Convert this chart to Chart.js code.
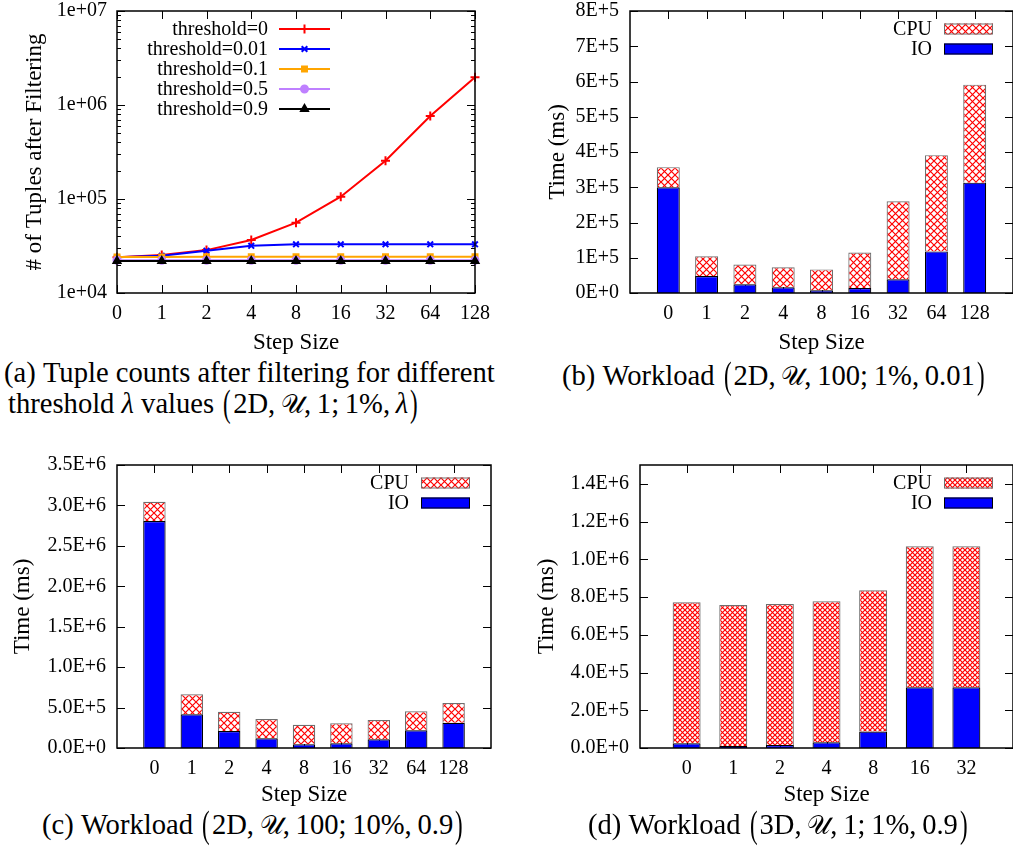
<!DOCTYPE html>
<html>
<head>
<meta charset="utf-8">
<script src="https://cdn.jsdelivr.net/npm/chart.js@4.4.1/dist/chart.umd.min.js"></script>
<style>
  html, body { margin: 0; padding: 0; background: #fff; }
  body { width: 1013px; height: 848px; position: relative; overflow: hidden;
         font-family: "Liberation Serif", "Times New Roman", serif; color: #000; }
  .panel { position: absolute; }
  .cap { position: absolute; font-size: 28.6px; line-height: 32px; white-space: nowrap; }
  .tag { margin-right: 0.25em; }
  .p { display: inline-block; transform: scale(0.8, 1.3); margin: 0 0.04em; }
  .cal { font-size: 0.9em; }
</style>
</head>
<body>
<div class="panel" style="left:0;top:0;width:500px;height:357px"><canvas id="tuples"></canvas></div>
<div class="panel" style="left:500px;top:0;width:513px;height:357px"><canvas id="wlB"></canvas></div>
<div class="panel" style="left:0;top:450px;width:500px;height:359px"><canvas id="wlC"></canvas></div>
<div class="panel" style="left:500px;top:450px;width:513px;height:359px"><canvas id="wlD"></canvas></div>

<div class="cap" style="left:4px;top:357px"><span class="tag">(a)</span>Tuple counts after filtering for different</div>
<div class="cap" style="left:8px;top:388px">threshold <i>λ</i> values <span class="p">(</span>2D,&thinsp;<span class="cal">𝒰</span>,&thinsp;1;&thinsp;1%,&thinsp;<i>λ</i><span class="p">)</span></div>
<div class="cap" style="left:562px;top:360px"><span class="tag">(b)</span>Workload <span class="p">(</span>2D,&thinsp;<span class="cal">𝒰</span>,&thinsp;100;&thinsp;1%,&thinsp;0.01<span class="p">)</span></div>
<div class="cap" style="left:42px;top:809px"><span class="tag">(c)</span>Workload <span class="p">(</span>2D,&thinsp;<span class="cal">𝒰</span>,&thinsp;100;&thinsp;10%,&thinsp;0.9<span class="p">)</span></div>
<div class="cap" style="left:588px;top:809px"><span class="tag">(d)</span>Workload <span class="p">(</span>3D,&thinsp;<span class="cal">𝒰</span>,&thinsp;1;&thinsp;1%,&thinsp;0.9<span class="p">)</span></div>

<script>
// (a) tuples left after filtering, per step size and threshold
const stepsA = ['0', '1', '2', '4', '8', '16', '32', '64', '128'];
const namesA = ['threshold=0', 'threshold=0.01', 'threshold=0.1', 'threshold=0.5', 'threshold=0.9'];
const thr0   = [24000, 25400, 28600, 36600, 56000, 105700, 255000, 764000, 1970000];
const thr001 = [24000, 24900, 28200, 31800, 33000, 33000, 33000, 33000, 33000];
const thr01  = [24200, 24200, 24300, 24300, 24300, 24300, 24300, 24300, 24300];
const thr05  = [22300, 22300, 22300, 22300, 22300, 22300, 22300, 22300, 22300];
const thr09  = [21900, 21900, 21900, 21900, 21900, 21900, 21900, 21900, 21900];
const yTicksA  = [1e4, 1e5, 1e6, 1e7];
const yLabelsA = ['1e+04', '1e+05', '1e+06', '1e+07'];

// (b) workload 2D, 100; 1%, 0.01
const stepsB = ['0', '1', '2', '4', '8', '16', '32', '64', '128'];
const ioB  = [300000, 48000, 25000, 16000, 8000, 14000, 39000, 118000, 313000];
const cpuB = [57000, 56000, 56000, 57000, 59000, 101000, 221000, 273000, 278000];
const yTicksB  = [0, 1e5, 2e5, 3e5, 4e5, 5e5, 6e5, 7e5, 8e5];
const yLabelsB = ['0E+0', '1E+5', '2E+5', '3E+5', '4E+5', '5E+5', '6E+5', '7E+5', '8E+5'];

// (c) workload 2D, 100; 10%, 0.9
const stepsC = ['0', '1', '2', '4', '8', '16', '32', '64', '128'];
const ioC  = [2807000, 417000, 210000, 120000, 45000, 58000, 107000, 218000, 313000];
const cpuC = [239000, 247000, 239000, 239000, 243000, 247000, 239000, 236000, 243000];
const yTicksC  = [0, 5e5, 1e6, 1.5e6, 2e6, 2.5e6, 3e6, 3.5e6];
const yLabelsC = ['0.0E+0', '5.0E+5', '1.0E+6', '1.5E+6', '2.0E+6', '2.5E+6', '3.0E+6', '3.5E+6'];

// (d) workload 3D, 1; 1%, 0.9
const stepsD = ['0', '1', '2', '4', '8', '16', '32'];
const ioD  = [25000, 11000, 16000, 30000, 87000, 322000, 322000];
const cpuD = [747000, 747000, 747000, 748000, 749000, 747000, 747000];
const yTicksD  = [0, 2e5, 4e5, 6e5, 8e5, 1e6, 1.2e6, 1.4e6];
const yLabelsD = ['0.0E+0', '2.0E+5', '4.0E+5', '6.0E+5', '8.0E+5', '1.0E+6', '1.2E+6', '1.4E+6'];

const FONT = '"Liberation Serif", "Times New Roman", serif';
const tickFont = { family: FONT, size: 20, lineHeight: 1 };
const titleFont = { family: FONT, size: 23 };

// red cross-hatch fill used for the CPU part of the bars
function hatch(size) {
  const c = document.createElement('canvas');
  c.width = c.height = size;
  const g = c.getContext('2d');
  g.fillStyle = '#fff';
  g.fillRect(0, 0, size, size);
  g.strokeStyle = '#ff0000';
  g.lineWidth = 1.2;
  g.beginPath();
  g.moveTo(0, 0); g.lineTo(size, size);
  g.moveTo(size, 0); g.lineTo(0, size);
  g.stroke();
  return g.createPattern(c, 'repeat');
}

// keep the plot box where the layout padding puts it
function noLabelPadding(s) {
  s.paddingTop = 0; s.paddingBottom = 0;
  s.paddingLeft = 0; s.paddingRight = 0;
}

// gnuplot style box: inward ticks on all four sides, border on top of the data
const frame = {
  id: 'frame',
  beforeDatasetsDraw(chart, args, o) {
    const { ctx, chartArea: a } = chart;
    const xs = chart.scales.x, ys = chart.scales.y;
    ctx.save();
    ctx.strokeStyle = '#000';
    ctx.lineWidth = 1;
    ctx.beginPath();
    ys.ticks.forEach(t => {
      const py = Math.round(ys.getPixelForValue(t.value)) + 0.5;
      const len = t.major ? 8 : 4;
      ctx.moveTo(a.left, py); ctx.lineTo(a.left + len, py);
      ctx.moveTo(a.right, py); ctx.lineTo(a.right - len, py);
    });
    for (let i = o.first; i <= o.last; i++) {
      const px = Math.round(xs.getPixelForValue(i)) + 0.5;
      ctx.moveTo(px, a.top); ctx.lineTo(px, a.top + 8);
      ctx.moveTo(px, a.bottom); ctx.lineTo(px, a.bottom - 8);
    }
    ctx.stroke();
    ctx.restore();
  },
  afterDatasetsDraw(chart) {
    const { ctx, chartArea: a } = chart;
    ctx.save();
    ctx.strokeStyle = '#000';
    ctx.lineWidth = 1.5;
    ctx.strokeRect(a.left, a.top, a.right - a.left, a.bottom - a.top);
    ctx.restore();
  }
};

// key inside the plot: label right-aligned, sample to its right
const key = {
  id: 'key',
  afterDraw(chart, args, o) {
    const { ctx, chartArea: a } = chart;
    const ds = chart.data.datasets;
    const idx = ds.map((_, i) => i);
    if (o.reverse) idx.reverse();
    const x1 = o.fromRight ? a.right - o.offset - o.width : a.left + o.offset;
    const x2 = x1 + o.width;
    ctx.save();
    ctx.font = '20px ' + FONT;
    ctx.textAlign = 'right';
    ctx.textBaseline = 'middle';
    idx.forEach((di, row) => {
      const d = ds[di];
      const cy = a.top + o.top + row * o.rowGap;
      ctx.fillStyle = '#000';
      ctx.fillText(d.label, x1 - o.gap, cy + 1);
      if (o.kind === 'line') {
        ctx.strokeStyle = d.borderColor;
        ctx.lineWidth = d.borderWidth;
        ctx.beginPath();
        ctx.moveTo(x1, cy); ctx.lineTo(x2, cy);
        ctx.stroke();
        ctx.fillStyle = d.pointBackgroundColor;
        ctx.strokeStyle = d.borderColor;
        ctx.lineWidth = d.pointBorderWidth;
        Chart.helpers.drawPoint(ctx, {
          pointStyle: d.pointStyle, radius: d.pointRadius,
          rotation: 0, borderWidth: d.pointBorderWidth
        }, (x1 + x2) / 2, cy);
      } else {
        const h = o.boxHeight;
        ctx.fillStyle = d.backgroundColor;
        ctx.fillRect(x1, cy - h / 2, o.width, h);
        ctx.strokeStyle = d.borderColor;
        ctx.lineWidth = 1;
        ctx.strokeRect(x1 + 0.5, cy - h / 2 + 0.5, o.width - 1, h - 1);
      }
    });
    ctx.restore();
  }
};

function lineSet(label, data, color, style, radius) {
  return {
    label, data,
    borderColor: color, backgroundColor: color,
    pointBackgroundColor: color, pointBorderColor: color,
    borderWidth: 2, pointBorderWidth: 2,
    pointStyle: style, pointRadius: radius, tension: 0
  };
}

// log axis ticks: 1..9 times every power of ten, majors carry labels
function logTicks(majors) {
  const out = [];
  for (let i = 0; i < majors.length - 1; i++) {
    for (let k = 1; k <= 9; k++) out.push({ value: k * majors[i], major: k === 1 });
  }
  out.push({ value: majors[majors.length - 1], major: true });
  return out;
}

new Chart(document.getElementById('tuples'), {
  type: 'line',
  data: {
    labels: stepsA,
    datasets: [
      { ...lineSet(namesA[0], thr0,   '#ff0000', 'cross',    4.5), order: 4 },
      { ...lineSet(namesA[1], thr001, '#0000ff', 'crossRot', 4),   order: 3 },
      { ...lineSet(namesA[2], thr01,  '#ffa500', 'rect',     3.5), order: 2 },
      { ...lineSet(namesA[3], thr05,  '#bf80ff', 'circle',   3.5), order: 1 },
      { ...lineSet(namesA[4], thr09,  '#000000', 'triangle', 4),   order: 0 }
    ]
  },
  options: {
    responsive: true, maintainAspectRatio: false, animation: false,
    layout: { padding: { left: 0, top: 11, right: 25, bottom: 0 } },
    plugins: {
      legend: { display: false }, tooltip: { enabled: false },
      frame: { first: 0, last: 8 },
      key: { kind: 'line', fromRight: false, offset: 162, width: 51, gap: 11, top: 18, rowGap: 20 }
    },
    scales: {
      x: {
        type: 'category', offset: false,
        grid: { display: false, drawTicks: false }, border: { display: false },
        ticks: { font: tickFont, color: '#000', padding: 11, maxRotation: 0, autoSkip: false },
        title: { display: true, text: 'Step Size', font: titleFont, color: '#000', padding: { top: 0, bottom: 0 } },
        afterFit: s => { s.height = 64; noLabelPadding(s); }
      },
      y: {
        type: 'logarithmic', min: yTicksA[0], max: yTicksA[yTicksA.length - 1],
        grid: { display: false, drawTicks: false }, border: { display: false },
        afterBuildTicks: s => { s.ticks = logTicks(yTicksA); },
        ticks: {
          font: tickFont, color: '#000', padding: 10, autoSkip: false,
          callback: v => {
            const i = yTicksA.findIndex(m => Math.abs(Math.log10(v) - Math.log10(m)) < 1e-9);
            return i < 0 ? '' : yLabelsA[i];
          }
        },
        title: { display: true, text: '# of Tuples after Filtering', font: titleFont, color: '#000', padding: { top: 21, bottom: 0 } },
        afterFit: s => { s.width = 117; noLabelPadding(s); }
      }
    }
  },
  plugins: [frame, key]
});

function workloadChart(id, steps, io, cpu, yTicks, yLabels, yMax, g) {
  const labels = ['', ...steps, ''];
  const pad = arr => [null, ...arr, null];
  new Chart(document.getElementById(id), {
    type: 'bar',
    data: {
      labels,
      datasets: [
        { label: 'IO', data: pad(io), backgroundColor: '#0000ff', borderColor: '#000', borderWidth: 1.2 },
        { label: 'CPU', data: pad(cpu), backgroundColor: hatch(g.hatch), borderColor: '#6e6e6e', borderWidth: 1.2 }
      ]
    },
    options: {
      responsive: true, maintainAspectRatio: false, animation: false,
      datasets: { bar: { barPercentage: 0.6, categoryPercentage: 1 } },
      layout: { padding: { left: 0, top: g.top, right: g.right, bottom: 0 } },
      plugins: {
        legend: { display: false }, tooltip: { enabled: false },
        frame: { first: 1, last: steps.length },
        key: { kind: 'bar', reverse: true, fromRight: true, offset: g.keyRight, width: 49, boxHeight: 11, gap: 12, top: 18, rowGap: 20 }
      },
      scales: {
        x: {
          type: 'category', offset: false, stacked: true,
          grid: { display: false, drawTicks: false }, border: { display: false },
          ticks: { font: tickFont, color: '#000', padding: 11, maxRotation: 0, autoSkip: false },
          title: { display: true, text: 'Step Size', font: titleFont, color: '#000', padding: { top: 0, bottom: 0 } },
          afterFit: s => { s.height = g.xHeight; noLabelPadding(s); }
        },
        y: {
          type: 'linear', stacked: true, min: 0, max: yMax,
          grid: { display: false, drawTicks: false }, border: { display: false },
          afterBuildTicks: s => { s.ticks = yTicks.map(v => ({ value: v, major: true })); },
          ticks: {
            font: tickFont, color: '#000', padding: 11, autoSkip: false,
            callback: v => yLabels[yTicks.indexOf(v)]
          },
          title: { display: true, text: 'Time (ms)', font: titleFont, color: '#000', padding: { top: g.titlePad, bottom: 0 } },
          afterFit: s => { s.width = g.yWidth; noLabelPadding(s); }
        }
      }
    },
    plugins: [frame, key]
  });
}

workloadChart('wlB', stepsB, ioB, cpuB, yTicksB, yLabelsB, 8e5,
  { top: 11, right: 0, yWidth: 130, xHeight: 64, titlePad: 44, keyRight: 20, hatch: 7 });
workloadChart('wlC', stepsC, ioC, cpuC, yTicksC, yLabelsC, 3.5e6,
  { top: 15, right: 9, yWidth: 117, xHeight: 61, titlePad: 9, keyRight: 21, hatch: 7 });
workloadChart('wlD', stepsD, ioD, cpuD, yTicksD, yLabelsD, 1.5e6,
  { top: 15, right: 0, yWidth: 140, xHeight: 61, titlePad: 33, keyRight: 20, hatch: 5 });
</script>
</body>
</html>
